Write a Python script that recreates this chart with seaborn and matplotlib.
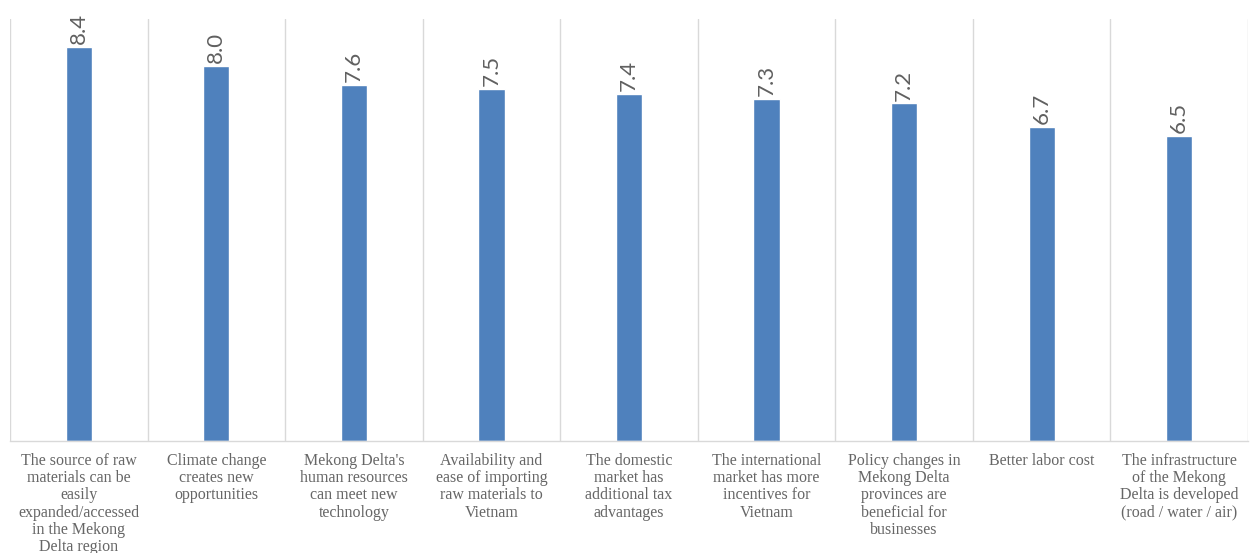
import matplotlib
matplotlib.use("Agg")
import matplotlib.pyplot as plt
from matplotlib.ticker import FixedLocator
import seaborn as sns
import pandas as pd

categories = [
    "The source of raw\nmaterials can be\neasily\nexpanded/accessed\nin the Mekong\nDelta region",
    "Climate change\ncreates new\nopportunities",
    "Mekong Delta's\nhuman resources\ncan meet new\ntechnology",
    "Availability and\nease of importing\nraw materials to\nVietnam",
    "The domestic\nmarket has\nadditional tax\nadvantages",
    "The international\nmarket has more\nincentives for\nVietnam",
    "Policy changes in\nMekong Delta\nprovinces are\nbeneficial for\nbusinesses",
    "Better labor cost",
    "The infrastructure\nof the Mekong\nDelta is developed\n(road / water / air)",
]
scores = [8.4, 8.0, 7.6, 7.5, 7.4, 7.3, 7.2, 6.7, 6.5]

df = pd.DataFrame({"factor": categories, "score": scores})

sns.set_theme(style="white")
fig = plt.figure(figsize=(12.5, 5.53), dpi=100)
ax = fig.add_axes([0.008, 0.2034, 0.9904, 0.7622])

sns.barplot(data=df, x="factor", y="score", color="#4f81bd", saturation=1,
            width=0.19, ax=ax)

ax.set_ylim(0, 9)
ax.set_xlim(-0.5, len(categories) - 0.5)
ax.set_xlabel("")
ax.set_ylabel("")
ax.set_yticks([])

# value labels, rotated, just above each bar
for i, v in enumerate(scores):
    ax.text(i, v + 0.06, f"{v:.1f}", rotation=90, ha="center", va="bottom",
            fontsize=16, color="#606060", family="Lato")

# category separators
ax.xaxis.set_minor_locator(FixedLocator([k - 0.5 for k in range(len(categories) + 1)]))
ax.grid(which="minor", axis="x", color="#d9d9d9", linewidth=1.0)
ax.tick_params(axis="x", which="both", length=0)
ax.tick_params(axis="x", which="major", pad=9)

for lbl in ax.get_xticklabels():
    lbl.set_family("Liberation Serif")
    lbl.set_fontsize(11.5)
    lbl.set_color("#666666")
    lbl.set_linespacing(1.1)
    lbl.set_ha("center")
    lbl.set_va("top")

for side in ["left", "right", "top"]:
    ax.spines[side].set_visible(False)
ax.spines["bottom"].set_color("#d9d9d9")
ax.spines["bottom"].set_linewidth(1.0)

fig.savefig("out.png", dpi=100, facecolor="white")
